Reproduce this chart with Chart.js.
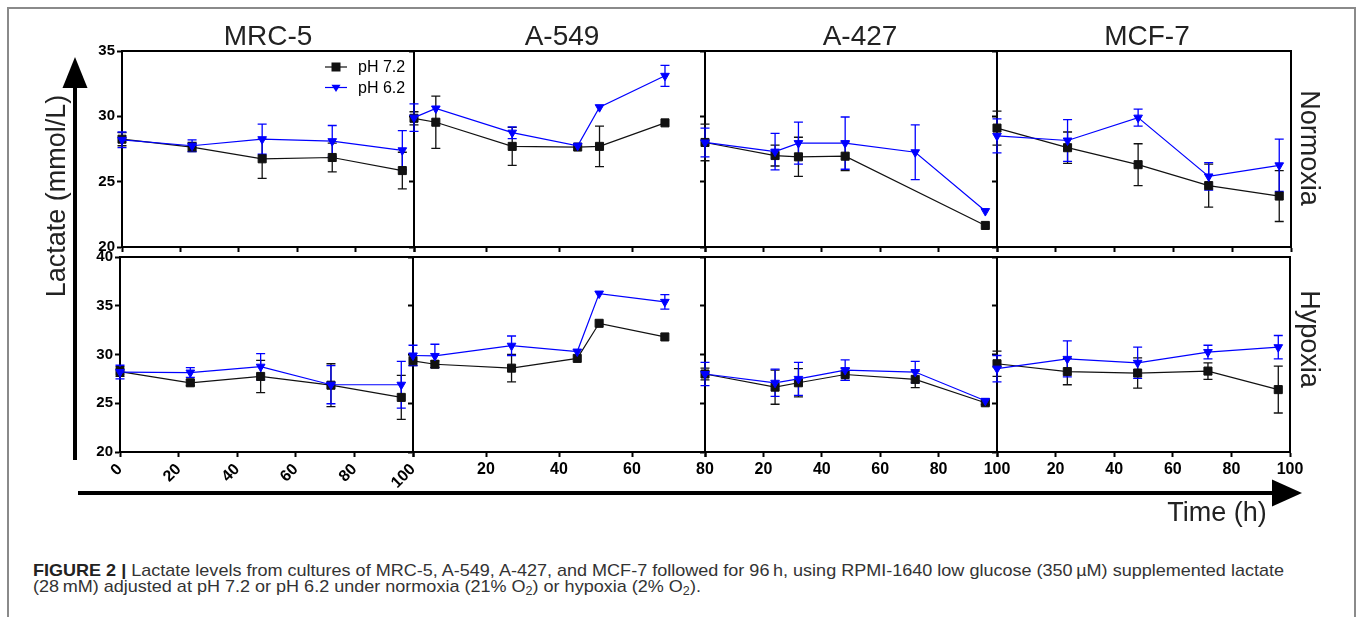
<!DOCTYPE html>
<html>
<head>
<meta charset="utf-8">
<script src="https://cdn.jsdelivr.net/npm/chart.js@4.4.1/dist/chart.umd.min.js"></script>
<style>
  body { margin: 0; background: #fff; }
  #fig { position: relative; width: 1358px; height: 617px; overflow: hidden; background: #fff;
         font-family: 'Liberation Sans', Arial, Helvetica, sans-serif; }
  #frame { position: absolute; left: 7px; top: 7px; width: 1349px; height: 700px;
           border: 2px solid #8a8a8a; box-sizing: border-box; }
  canvas.panel { position: absolute; }
  #overlay { position: absolute; left: 0; top: 0; pointer-events: none; }
  .cap { position: absolute; left: 33px; white-space: nowrap; font-size: 17px; line-height: 17px;
         font-family: 'Liberation Sans Narrow', 'Liberation Sans', Arial, sans-serif;
         color: #333; transform-origin: 0 0; }
  .cap b { color: #222; }
  .cap sub { font-size: 70%; line-height: 0; vertical-align: -0.25em; }
</style>
</head>
<body>
<div id="fig">
  <div id="frame"></div>
  <div class="cap" id="cap1" style="top:562px"><b>FIGURE 2 |</b> Lactate levels from cultures of MRC-5, A-549, A-427, and MCF-7 followed for 96&#8201;h, using RPMI-1640 low glucose (350&#8201;&micro;M) supplemented lactate</div>
  <div class="cap" id="cap2" style="top:578px">(28&#8201;mM) adjusted at pH 7.2 or pH 6.2 under normoxia (21% O<sub>2</sub>) or hypoxia (2% O<sub>2</sub>).</div>
</div>
<script>
// ---- data ----
const cellLines = ['MRC-5', 'A-549', 'A-427', 'MCF-7'];
const conditions = ['Normoxia', 'Hypoxia'];
const seriesNames = ['pH 7.2', 'pH 6.2'];
const timeMax = [100, 80, 100, 100];
const timeStep = 20;
const lactateMin = 20;
const lactateMax = [35, 40];
const lactateStep = 5;

// sampling times (h) for each cell line
const sampleTimes = [
  [0, 24, 48, 72, 96],
  [0, 6, 27, 45, 51, 69],
  [0, 24, 32, 48, 72, 96],
  [0, 24, 48, 72, 96]
];

// normoxia
const normPh72 = [
  [28.25, 27.65, 26.75, 26.85, 25.85],
  [29.85, 29.55, 27.7, 27.65, 27.7, 29.5],
  [28.0, 27.0, 26.9, 26.95, null, 21.65],
  [29.1, 27.6, 26.3, 24.7, 23.9]
];
const normPh72Sd = [
  [0.5, 0.35, 1.5, 1.1, 1.4],
  [0.5, 2.0, 1.45, 0, 1.55, 0],
  [1.4, 0.8, 1.5, 1.1, null, 0],
  [1.3, 1.2, 1.6, 1.65, 1.95]
];
const normPh62 = [
  [28.2, 27.75, 28.25, 28.1, 27.4],
  [29.9, 30.6, 28.75, 27.75, 30.7, 33.1],
  [28.0, 27.3, 27.95, 27.95, 27.25, 22.75],
  [28.5, 28.15, 29.9, 25.4, 26.25]
];
const normPh62Sd = [
  [0.6, 0.45, 1.15, 1.2, 1.5],
  [1.05, 0, 0.45, 0, 0, 0.8],
  [1.1, 1.4, 1.6, 2.0, 2.1, 0],
  [1.3, 1.6, 0.65, 1.05, 2.0]
];

// hypoxia
const hypPh72 = [
  [28.25, 27.1, 27.75, 26.85, 25.6],
  [29.35, 29.0, 28.6, 29.6, 33.2, 31.8],
  [28.0, 26.65, 27.1, 27.95, 27.45, 25.05],
  [29.05, 28.25, 28.1, 28.3, 26.4]
];
const hypPh72Sd = [
  [0.5, 0.3, 1.65, 2.2, 2.25],
  [0.5, 0.35, 1.4, 0, 0, 0],
  [0.6, 1.75, 1.45, 0.6, 0.85, 0.2],
  [1.3, 1.35, 1.55, 0.85, 2.4]
];
const hypPh62 = [
  [28.2, 28.15, 28.75, 26.9, 26.9],
  [29.9, 29.85, 30.9, 30.3, 36.25, 35.4],
  [28.0, 27.1, 27.5, 28.4, 28.2, 25.25],
  [28.55, 29.55, 29.15, 30.25, 30.75]
];
const hypPh62Sd = [
  [0.7, 0.5, 1.35, 1.95, 2.4],
  [1.05, 1.2, 1.0, 0, 0, 0.75],
  [1.2, 1.4, 1.7, 1.05, 1.1, 0],
  [1.35, 1.85, 1.6, 0.7, 1.2]
];

// ---- layout ----
const FONT = "'Liberation Sans', Arial, Helvetica, sans-serif";
const BLACK = '#111111';
const BLUE = '#0000ff';
const colEdges = [[122, 414, 705, 997, 1291], [120, 413, 705, 997, 1290]];
const rowEdges = [[51, 247], [257, 452]];
const PAD = { l: 60, r: 22, t: 12, b: 50 };

const rowData = [
  [[normPh72, normPh72Sd], [normPh62, normPh62Sd]],
  [[hypPh72, hypPh72Sd], [hypPh62, hypPh62Sd]]
];

// error bars under the markers
const errorBars = {
  id: 'errorBars',
  beforeDatasetsDraw(chart) {
    const { ctx, scales: { x, y } } = chart;
    chart.data.datasets.forEach(ds => {
      ctx.save();
      ctx.strokeStyle = ds.borderColor;
      ctx.lineWidth = 1.3;
      ds.data.forEach((p, j) => {
        const sd = ds.sd[j];
        if (p.y == null || !sd) return;
        const px = x.getPixelForValue(p.x);
        const top = y.getPixelForValue(p.y + sd);
        const bot = y.getPixelForValue(p.y - sd);
        ctx.beginPath();
        ctx.moveTo(px, top); ctx.lineTo(px, bot);
        ctx.moveTo(px - 4.5, top); ctx.lineTo(px + 4.5, top);
        ctx.moveTo(px - 4.5, bot); ctx.lineTo(px + 4.5, bot);
        ctx.stroke();
      });
      ctx.restore();
    });
  }
};

// top and right sides of each panel box
const frameBox = {
  id: 'frameBox',
  afterDraw(chart) {
    const { ctx, chartArea: a } = chart;
    ctx.save();
    ctx.strokeStyle = '#000';
    ctx.lineWidth = 2;
    ctx.beginPath();
    ctx.moveTo(a.left - 1, a.top);
    ctx.lineTo(a.right, a.top);
    ctx.lineTo(a.right, a.bottom + 1);
    ctx.stroke();
    ctx.restore();
  }
};

// small legend inside the first panel
const legendBox = {
  id: 'legendBox',
  afterDraw(chart) {
    const { ctx, chartArea: a } = chart;
    chart.data.datasets.forEach((ds, i) => {
      const yy = a.top + 16 + i * 20.5;
      const xl = a.right - 89, xr = a.right - 67, xm = (xl + xr) / 2;
      ctx.save();
      ctx.strokeStyle = ds.borderColor;
      ctx.lineWidth = ds.borderWidth;
      ctx.beginPath(); ctx.moveTo(xl, yy); ctx.lineTo(xr, yy); ctx.stroke();
      ctx.fillStyle = ds.pointBackgroundColor;
      ctx.beginPath();
      if (ds.pointStyle === 'rect') {
        ctx.rect(xm - 4.5, yy - 4.5, 9, 9);
      } else {
        ctx.moveTo(xm - 4.5, yy - 2.8); ctx.lineTo(xm + 4.5, yy - 2.8); ctx.lineTo(xm, yy + 4.6); ctx.closePath();
      }
      ctx.fill();
      ctx.fillStyle = '#000';
      ctx.font = '16px ' + FONT;
      ctx.textBaseline = 'middle';
      ctx.fillText(ds.label, a.right - 56, yy + 1);
      ctx.restore();
    });
  }
};

const fig = document.getElementById('fig');

for (let r = 0; r < 2; r++) {
  for (let c = 0; c < 4; c++) {
    const x0 = colEdges[r][c], x1 = colEdges[r][c + 1];
    const [y0, y1] = rowEdges[r];
    const cv = document.createElement('canvas');
    cv.className = 'panel';
    cv.width = x1 - x0 + PAD.l + PAD.r;
    cv.height = y1 - y0 + PAD.t + PAD.b;
    cv.style.width = cv.width + 'px';
    cv.style.height = cv.height + 'px';
    cv.style.left = (x0 - PAD.l) + 'px';
    cv.style.top = (y0 - PAD.t) + 'px';
    fig.appendChild(cv);

    const datasets = rowData[r].map(([means, sds], s) => ({
      label: seriesNames[s],
      data: sampleTimes[c].map((t, i) => ({ x: t, y: means[c][i] })),
      sd: sds[c],
      borderColor: s === 0 ? BLACK : BLUE,
      borderWidth: 1.2,
      pointStyle: s === 0 ? 'rect' : 'triangle',
      pointRotation: s === 0 ? 0 : 180,
      pointRadius: s === 0 ? 5.7 : 5,
      pointBackgroundColor: s === 0 ? BLACK : BLUE,
      pointBorderColor: s === 0 ? BLACK : BLUE,
      pointBorderWidth: 1,
      spanGaps: true,
      tension: 0,
      clip: false,
      order: s === 0 ? 1 : 0
    }));

    const tickFont = { family: FONT, weight: 'bold' };
    const plugins = [errorBars, frameBox];
    if (r === 0 && c === 0) plugins.push(legendBox);

    new Chart(cv, {
      type: 'line',
      data: { datasets },
      plugins,
      options: {
        responsive: false,
        animation: false,
        devicePixelRatio: 1,
        events: [],
        layout: { padding: { top: PAD.t, right: PAD.r, left: 0, bottom: 0 } },
        plugins: { legend: { display: false }, tooltip: { enabled: false } },
        scales: {
          x: {
            type: 'linear',
            min: 0,
            max: timeMax[c],
            ticks: {
              stepSize: timeStep,
              display: r === 1,
              autoSkip: false,
              color: '#000',
              font: { ...tickFont, size: 16 },
              padding: 3,
              minRotation: c === 0 ? 45 : 0,
              maxRotation: c === 0 ? 45 : 0,
              callback: v => (c > 0 && v === 0) ? '' : v
            },
            grid: { drawOnChartArea: false, drawTicks: true, tickLength: 5, tickWidth: 2, color: '#000' },
            border: { display: true, color: '#000', width: 2 },
            afterFit: s => { s.height = PAD.b; s.paddingLeft = 0; s.paddingRight = 0; }
          },
          y: {
            min: lactateMin,
            max: lactateMax[r],
            ticks: {
              stepSize: lactateStep,
              display: c === 0,
              color: '#000',
              font: { ...tickFont, size: 15 },
              padding: 2
            },
            grid: { drawOnChartArea: false, drawTicks: true, tickLength: 5, tickWidth: 2, color: '#000' },
            border: { display: true, color: '#000', width: 2 },
            afterFit: s => { s.width = PAD.l; s.paddingTop = 0; s.paddingBottom = 0; }
          }
        }
      }
    });
  }
}

// ---- titles, axis arrows and labels ----
const titleX = [268, 562, 860, 1147];
const rowLabelY = [148, 339];
const NS = 'http://www.w3.org/2000/svg';
const svg = document.createElementNS(NS, 'svg');
svg.setAttribute('id', 'overlay');
svg.setAttribute('width', 1358);
svg.setAttribute('height', 617);
function el(tag, attrs, text) {
  const e = document.createElementNS(NS, tag);
  for (const k in attrs) e.setAttribute(k, attrs[k]);
  if (text) e.textContent = text;
  svg.appendChild(e);
  return e;
}
cellLines.forEach((name, c) => {
  el('text', { x: titleX[c], y: 45, 'text-anchor': 'middle', 'font-family': FONT, 'font-size': 28, fill: '#222' }, name);
});
conditions.forEach((name, r) => {
  el('text', { x: 0, y: 0, 'text-anchor': 'middle', 'font-family': FONT, 'font-size': 27, fill: '#222',
               transform: `translate(1301 ${rowLabelY[r]}) rotate(90)` }, name);
});
el('line', { x1: 75, y1: 460, x2: 75, y2: 84, stroke: '#000', 'stroke-width': 4 });
el('polygon', { points: '75,57 62.5,88 87.5,88', fill: '#000' });
el('line', { x1: 78, y1: 493, x2: 1276, y2: 493, stroke: '#000', 'stroke-width': 4 });
el('polygon', { points: '1302,493 1272,479.5 1272,506.5', fill: '#000' });
el('text', { x: 0, y: 0, 'text-anchor': 'middle', 'font-family': FONT, 'font-size': 27, fill: '#222',
             transform: 'translate(65 196) rotate(-90)' }, 'Lactate (mmol/L)');
el('text', { x: 1217, y: 521, 'text-anchor': 'middle', 'font-family': FONT, 'font-size': 27, fill: '#222' }, 'Time (h)');
fig.appendChild(svg);

// caption is set in a condensed face; squeeze it to the printed width
const cap1 = document.getElementById('cap1');
const cap2 = document.getElementById('cap2');
const k = 1251 / cap1.getBoundingClientRect().width;
cap1.style.transform = `scaleX(${k})`;
cap2.style.transform = `scaleX(${k})`;
</script>
</body>
</html>
